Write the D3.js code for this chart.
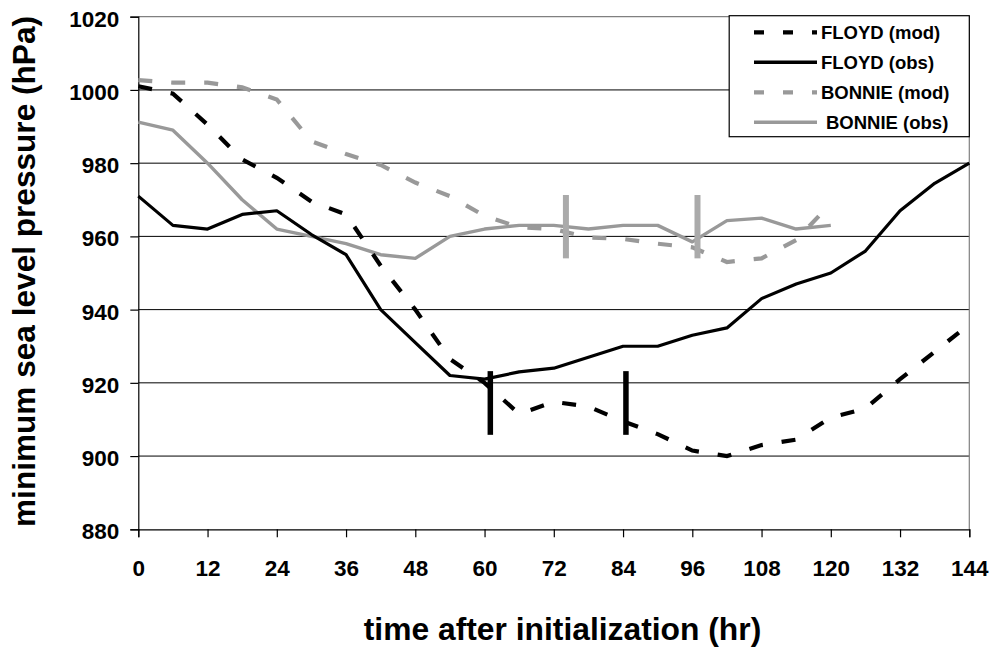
<!DOCTYPE html>
<html>
<head>
<meta charset="utf-8">
<script src="https://cdn.jsdelivr.net/npm/d3@7"></script>
<style>
  html, body { margin: 0; padding: 0; background: #fff; }
  svg { display: block; }
  text { font-family: "Liberation Sans", Arial, sans-serif; font-weight: bold; fill: #000; }
</style>
</head>
<body>
<svg id="chart" width="994" height="650"></svg>
<script>
// ---- data ----
const hours = [0, 6, 12, 18, 24, 30, 36, 42, 48, 54, 60, 66, 72, 78, 84, 90, 96, 102, 108, 114, 120, 126, 132, 138, 144];
const floydMod = [1001, 999, 990.5, 981, 976, 969.5, 966, 952, 940, 926.5, 920, 911.5, 914.8, 913.5, 909.5, 906, 901.5, 900, 903, 904.5, 910.5, 913, 921, 928.5, 936];
const floydObs = [971, 963, 962, 966, 967, 960.5, 955, 940, 931, 922, 921, 923, 924, 927, 930, 930, 933, 935, 943, 947, 950, 956, 967, 974.5, 980];
const bonnieMod = [1002.7, 1002, 1002, 1000.7, 997.4, 986, 982.5, 979.5, 974.7, 971, 965.6, 962.5, 962, 959.7, 959.3, 958, 957, 953, 954, 959, 969];
const bonnieObs = [991.2, 989, 980, 970, 962, 960, 958, 955, 954, 960, 962, 963, 963, 962, 963, 963, 958.5, 964.3, 965, 962, 963];
const floydMarks = [61, 84.5];
const floydMarkRange = [905.8, 923.2];
const bonnieMarks = [74.1, 96.9];
const bonnieMarkRange = [954, 971.3];
const xTicks = [0, 12, 24, 36, 48, 60, 72, 84, 96, 108, 120, 132, 144];
const yTicks = [880, 900, 920, 940, 960, 980, 1000, 1020];
const seriesNames = ["FLOYD (mod)", "FLOYD (obs)", "BONNIE (mod)", "BONNIE (obs)"];

// ---- layout ----
const L = 138.3, R = 969.3, T = 16.7, B = 529.3;
const svg = d3.select("#chart");
const x = d3.scaleLinear().domain([0, 144]).range([L, R]);
const y = d3.scaleLinear().domain([880, 1020]).range([B, T]);

const BLACK = "#000";
const GRAY = "#999999";
const GRAY_BAR = "#aaaaaa";

// gridlines
svg.append("g").selectAll("line").data(yTicks.filter(v => v > 880 && v < 1020)).join("line")
  .attr("x1", L).attr("x2", R).attr("y1", d => y(d)).attr("y2", d => y(d))
  .attr("stroke", "#000").attr("stroke-width", 1);

// plot border top/right (gray)
svg.append("path")
  .attr("d", `M${L},${y(1020)}H${R}V${B}`)
  .attr("fill", "none").attr("stroke", "#808080").attr("stroke-width", 1.2);

// axes
const xAxis = d3.axisBottom(x).tickValues(xTicks).tickSize(8).tickPadding(22.5).tickFormat(d3.format("d"));
const gx = svg.append("g").attr("transform", `translate(0,${B})`).call(xAxis);
gx.select(".domain").attr("stroke", "#000").attr("stroke-width", 1.2);
gx.selectAll(".tick line").attr("stroke", "#000").attr("stroke-width", 1.2);
gx.selectAll(".tick text").attr("font-size", 22.5).attr("font-family", null).attr("dy", "0.71em");

const yAxis = d3.axisLeft(y).tickValues(yTicks).tickSize(8).tickPadding(11).tickFormat(d3.format("d"));
const gy = svg.append("g").attr("transform", `translate(${L},0)`).call(yAxis);
gy.select(".domain").attr("stroke", "#000").attr("stroke-width", 1.2);
gy.selectAll(".tick line").attr("stroke", "#000").attr("stroke-width", 1.2);
gy.selectAll(".tick text").attr("font-size", 22.5).attr("font-family", null).attr("dy", "0.42em");
svg.selectAll(".tick text").attr("fill", "#000");

// lines
const line = d3.line().x(d => x(d[0])).y(d => y(d[1]));
function series(vals) { return vals.map((v, i) => [hours[i], v]); }

svg.append("path").datum(series(bonnieObs)).attr("d", line)
  .attr("fill", "none").attr("stroke", GRAY).attr("stroke-width", 3.4).attr("stroke-linejoin", "round");
svg.append("path").datum(series(bonnieMod)).attr("d", line)
  .attr("fill", "none").attr("stroke", GRAY).attr("stroke-width", 4.2).attr("stroke-dasharray", "14,19");
svg.append("path").datum(series(floydObs)).attr("d", line)
  .attr("fill", "none").attr("stroke", BLACK).attr("stroke-width", 3.2).attr("stroke-linejoin", "round");
svg.append("path").datum(series(floydMod)).attr("d", line)
  .attr("fill", "none").attr("stroke", BLACK).attr("stroke-width", 4.2).attr("stroke-dasharray", "14,19");

// marker bars
svg.append("g").selectAll("line").data(bonnieMarks).join("line")
  .attr("x1", d => x(d)).attr("x2", d => x(d))
  .attr("y1", y(bonnieMarkRange[0])).attr("y2", y(bonnieMarkRange[1]))
  .attr("stroke", GRAY_BAR).attr("stroke-width", 6);
svg.append("g").selectAll("line").data(floydMarks).join("line")
  .attr("x1", d => x(d)).attr("x2", d => x(d))
  .attr("y1", y(floydMarkRange[0])).attr("y2", y(floydMarkRange[1]))
  .attr("stroke", BLACK).attr("stroke-width", 5.5);

// legend
const lg = svg.append("g");
lg.append("rect").attr("x", 729.2).attr("y", 15.7).attr("width", R - 729.2).attr("height", 121)
  .attr("fill", "#fff").attr("stroke", "#000").attr("stroke-width", 1.2);
const legendStyles = [
  { color: BLACK, dash: "10,19", w: 4.2, dx: 0 },
  { color: BLACK, dash: null, w: 3.4, dx: 0 },
  { color: GRAY, dash: "10,19", w: 4.2, dx: 0 },
  { color: GRAY, dash: null, w: 3.6, dx: 5 }
];
seriesNames.forEach((name, i) => {
  const cy = 32.3 + i * 30;
  const s = legendStyles[i];
  const ln = lg.append("line").attr("x1", 754).attr("x2", 817).attr("y1", cy).attr("y2", cy)
    .attr("stroke", s.color).attr("stroke-width", s.w);
  if (s.dash) ln.attr("stroke-dasharray", s.dash);
  lg.append("text").attr("x", 821 + s.dx).attr("y", cy).attr("dy", "0.36em")
    .attr("font-size", 18.5).text(name);
});

// axis titles
svg.append("text").attr("x", 562.5).attr("y", 640).attr("text-anchor", "middle")
  .attr("font-size", 31.8).text("time after initialization (hr)");
svg.append("text").attr("transform", `translate(35,271.5) rotate(-90)`).attr("text-anchor", "middle")
  .attr("font-size", 31.6).text("minimum sea level pressure (hPa)");
</script>
</body>
</html>
